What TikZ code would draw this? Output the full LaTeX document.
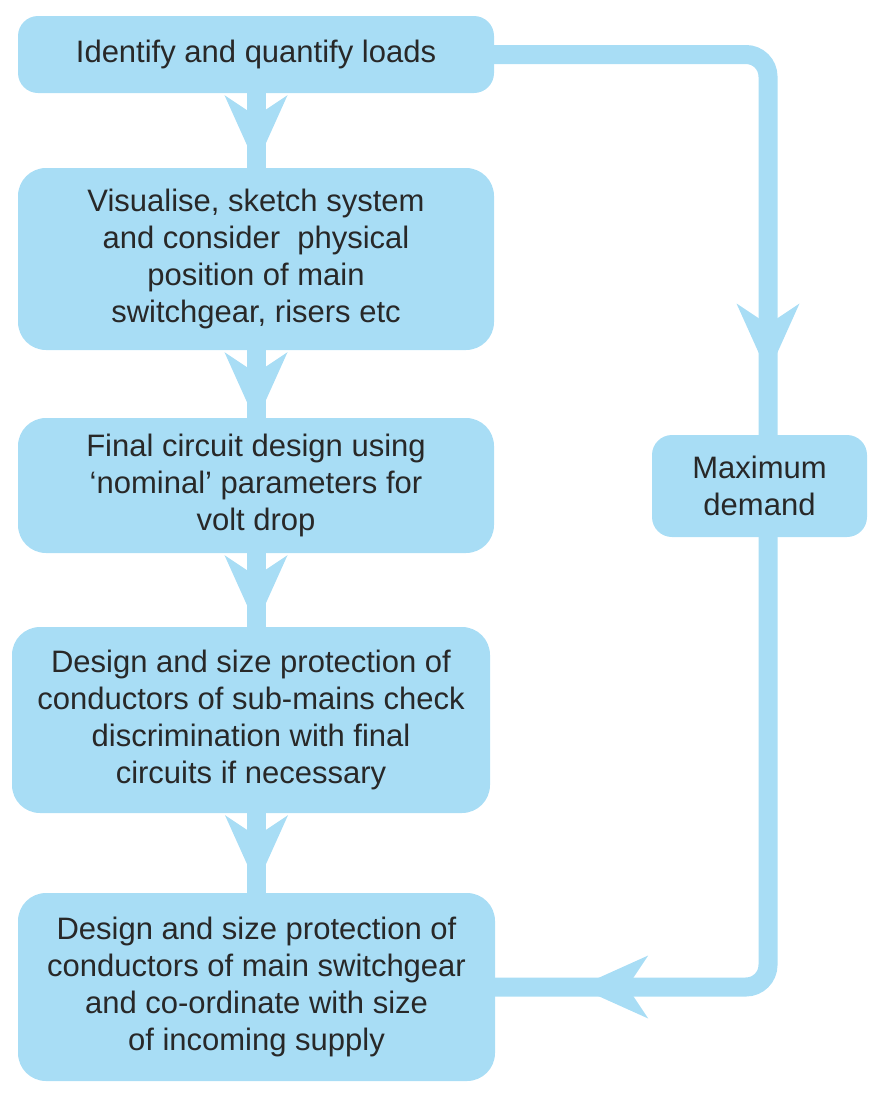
\documentclass[tikz,border=0pt]{standalone}
\usepackage{fontspec}
\setmainfont{Liberation Sans}
\usetikzlibrary{calc}
\definecolor{lb}{RGB}{168,221,245}
\definecolor{tx}{RGB}{40,40,40}
\begin{document}
\begin{tikzpicture}[x=1pt,y=-1pt,
  box/.style={fill=lb, text=tx, align=center, inner sep=0pt,
    font=\fontsize{31}{37}\selectfont, rounded corners=28pt},
  conn/.style={draw=lb, line width=19pt},
  pics/headdown/.style={code={\fill[lb] (0,0) -- (-31.5,-70) -- (0,-49) -- (31.5,-70) -- cycle;}},
  pics/headleft/.style={code={\fill[lb] (0,0) -- (70,-31.5) -- (49,0) -- (70,31.5) -- cycle;}}]
\useasboundingbox (0,0) rectangle (874,1095);

\node[box, rounded corners=20pt, minimum width=476pt, minimum height=77pt] (b1) at (256,54.5)
  {Identify and quantify loads};
\node[box, minimum width=476pt, minimum height=182pt] (b2) at (256,259)
  {Visualise, sketch system\\and consider\ \ physical\\position of main\\switchgear, risers etc};
\node[box, minimum width=476pt, minimum height=135pt] (b3) at (256,485.5)
  {Final circuit design using\\‘nominal’ parameters for\\volt drop};
\node[box, minimum width=478pt, minimum height=186pt] (b4) at (251,720)
  {Design and size protection of\\conductors of sub-mains check\\discrimination with final\\circuits if necessary};
\node[box, minimum width=477pt, minimum height=188pt] (b5) at (256.5,987)
  {Design and size protection of\\conductors of main switchgear\\and co-ordinate with size\\of incoming supply};
\node[box, rounded corners=20pt, minimum width=215pt, minimum height=102pt] (md) at (759.5,486)
  {Maximum\\demand};

\coordinate (rx) at (768,0);

\draw[conn] (b1.south) -- (b1.south |- b2.north);
\draw[conn] (b2.south) -- (b2.south |- b3.north);
\draw[conn] (b3.south) -- (b3.south |- b4.north);
\draw[conn] (b5.north |- b4.south) -- (b5.north);

\pic at ($(b1.south)+(0,72)$) {headdown};
\pic at ($(b2.south)+(0,72)$) {headdown};
\pic at ($(b3.south)+(0,72)$) {headdown};
\pic at ($(b5.north |- b4.south)+(0,72)$) {headdown};

\draw[conn, rounded corners=22pt] (b1.east) -| (rx |- md.north);
\draw[conn, rounded corners=22pt] (rx |- md.south) |- (b5.east);
\pic at ($(rx |- b1.east)+(0,319)$) {headdown};
\pic at ($(b5.east)+(83,0)$) {headleft};
\end{tikzpicture}
\end{document}
